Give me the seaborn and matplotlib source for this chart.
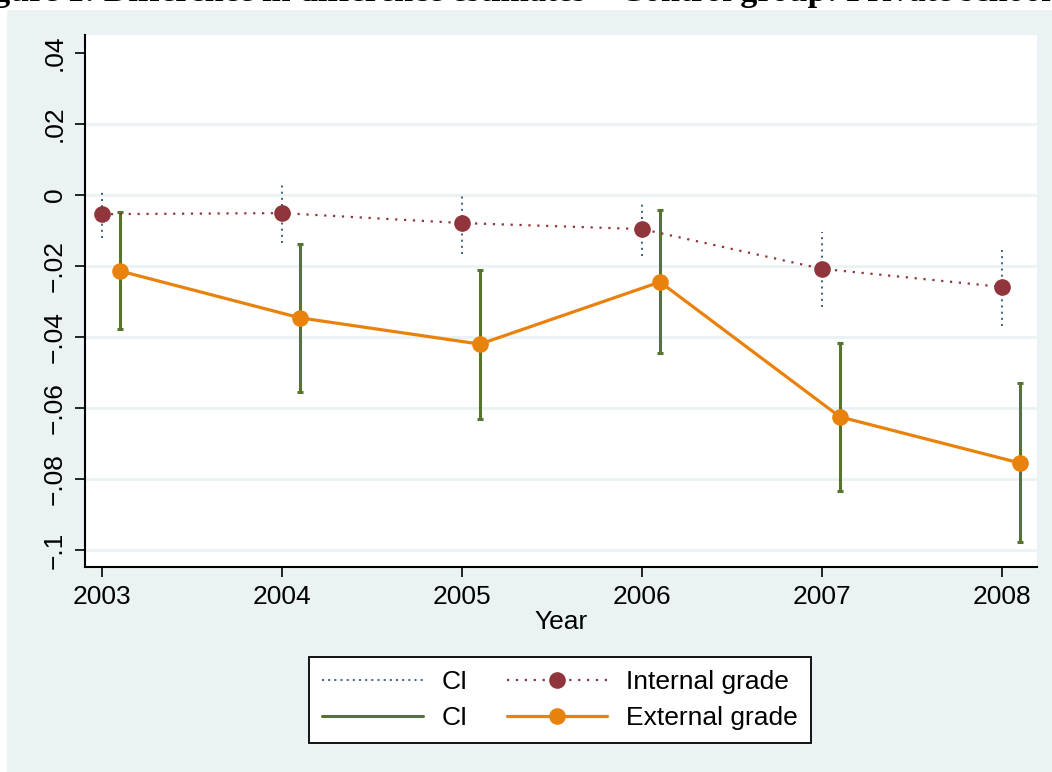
import numpy as np
import pandas as pd
import seaborn as sns
import matplotlib.pyplot as plt
from matplotlib.lines import Line2D
from matplotlib.patches import Rectangle

# Données
annees = [2003, 2004, 2005, 2006, 2007, 2008]
interne = [-0.0054, -0.0051, -0.0079, -0.0096, -0.0208, -0.0259]
interne_bas = [-0.0121, -0.0135, -0.0166, -0.0172, -0.0315, -0.0369]
interne_haut = [0.0011, 0.0034, 0.0006, -0.0020, -0.0104, -0.0146]
externe = [-0.0214, -0.0346, -0.0420, -0.0245, -0.0625, -0.0755]
externe_bas = [-0.0377, -0.0555, -0.0631, -0.0445, -0.0834, -0.0977]
externe_haut = [-0.0048, -0.0138, -0.0211, -0.0042, -0.0417, -0.0530]
decalage = 0.1
yticks = [0.04, 0.02, 0, -0.02, -0.04, -0.06, -0.08, -0.1]
yticklabels = [".04", ".02", "0", "\u2212.02", "\u2212.04", "\u2212.06", "\u2212.08", "\u2212.1"]

FOND = "#EAF2F3"
NAVY = "#1a476f"
MAROON = "#90353b"
VERT = "#55752f"
ORANGE = "#e8820c"
TAILLE = 19


def main():
    sns.set_style("white")
    plt.rcParams["font.family"] = ["Liberation Sans", "DejaVu Sans"]
    for k in ["text.color", "axes.labelcolor", "xtick.color", "ytick.color"]:
        plt.rcParams[k] = "black"

    df_int = pd.DataFrame({"annee": annees, "valeur": interne})
    df_ext = pd.DataFrame({"annee": np.array(annees) + decalage, "valeur": externe})

    fig = plt.figure(figsize=(10.52, 7.72), dpi=100)
    fig.patch.set_facecolor("white")
    fig.patches.append(Rectangle((7 / 1052, 0), 1 - 7 / 1052, 1 - 10 / 772,
                                 transform=fig.transFigure, facecolor=FOND,
                                 edgecolor="none", zorder=-10))
    fig.text(0.488, 1 - 1 / 772,
             "Figure 1: Difference in difference estimates \u2013 Control group: Private schools",
             family=["Liberation Serif", "DejaVu Serif"], fontweight="bold",
             fontsize=24.5, ha="center", va="baseline")

    ax = fig.add_axes([85 / 1052, 1 - 567 / 772, (1037 - 85) / 1052, (567 - 35) / 772])
    ax.set_facecolor("white")

    # IC note interne (pointillés)
    e1 = ax.errorbar(annees, interne,
                     yerr=[np.array(interne) - np.array(interne_bas),
                           np.array(interne_haut) - np.array(interne)],
                     fmt="none", ecolor=NAVY, elinewidth=1.2, capsize=0, zorder=3)
    for c in e1[2]:
        c.set_linestyle((0, (1.2, 2.5)))

    # IC note externe
    ax.errorbar(np.array(annees) + decalage, externe,
                yerr=[np.array(externe) - np.array(externe_bas),
                      np.array(externe_haut) - np.array(externe)],
                fmt="none", ecolor=VERT, elinewidth=2.2, capsize=2.5,
                capthick=2.2, zorder=3)

    sns.lineplot(data=df_int, x="annee", y="valeur", ax=ax, color=MAROON,
                 marker="o", markersize=12, markeredgewidth=0,
                 linewidth=1.6, linestyle=(0, (1, 3)), alpha=1, zorder=4)
    sns.lineplot(data=df_ext, x="annee", y="valeur", ax=ax, color=ORANGE,
                 marker="o", markersize=12, markeredgewidth=0,
                 linewidth=2.3, zorder=5)

    ax.set_xlim(2003 - 17 / 180, 2003 + (1037 - 102) / 180)
    ax.set_ylim(-0.1 - 17 / 71 * 0.02, 0.04 + 18 / 71 * 0.02)
    ax.set_xticks(annees)
    ax.set_xticklabels([str(a) for a in annees], fontsize=TAILLE)
    ax.set_yticks(yticks)
    ax.set_yticklabels(yticklabels, fontsize=TAILLE, rotation=90, va="center")
    for y in yticks[1:]:
        ax.axhline(y, color=FOND, linewidth=2, zorder=1)
    ax.tick_params(axis="both", length=7, width=1.2, color="black", pad=6,
                   left=True, bottom=True)
    for s in ["top", "right"]:
        ax.spines[s].set_visible(False)
    for s in ["left", "bottom"]:
        ax.spines[s].set_color("black")
        ax.spines[s].set_linewidth(1.5)
    ax.set_xlabel("Year", fontsize=TAILLE, labelpad=1)
    ax.set_ylabel("")

    poignees = [
        Line2D([], [], color=NAVY, linewidth=1.2, linestyle=(0, (1.2, 2.5))),
        Line2D([], [], color=VERT, linewidth=2.2),
        Line2D([], [], color=MAROON, linewidth=1.6, linestyle=(0, (1, 3)),
               marker="o", markersize=12, markeredgewidth=0),
        Line2D([], [], color=ORANGE, linewidth=2.3, marker="o", markersize=12,
               markeredgewidth=0),
    ]
    leg = fig.legend(poignees, ["CI", "CI", "Internal grade", "External grade"],
                     ncol=2, loc="center", bbox_to_anchor=(560 / 1052, 1 - 700 / 772),
                     fontsize=TAILLE, frameon=True, fancybox=False, handlelength=3.8,
                     handletextpad=0.7, columnspacing=1.5, labelspacing=0.45,
                     borderpad=0.5, framealpha=1)
    leg.get_frame().set_edgecolor("black")
    leg.get_frame().set_facecolor("white")
    leg.get_frame().set_linewidth(1.3)

    fig.savefig("out.png", dpi=100, facecolor=fig.get_facecolor())


if __name__ == "__main__":
    main()
